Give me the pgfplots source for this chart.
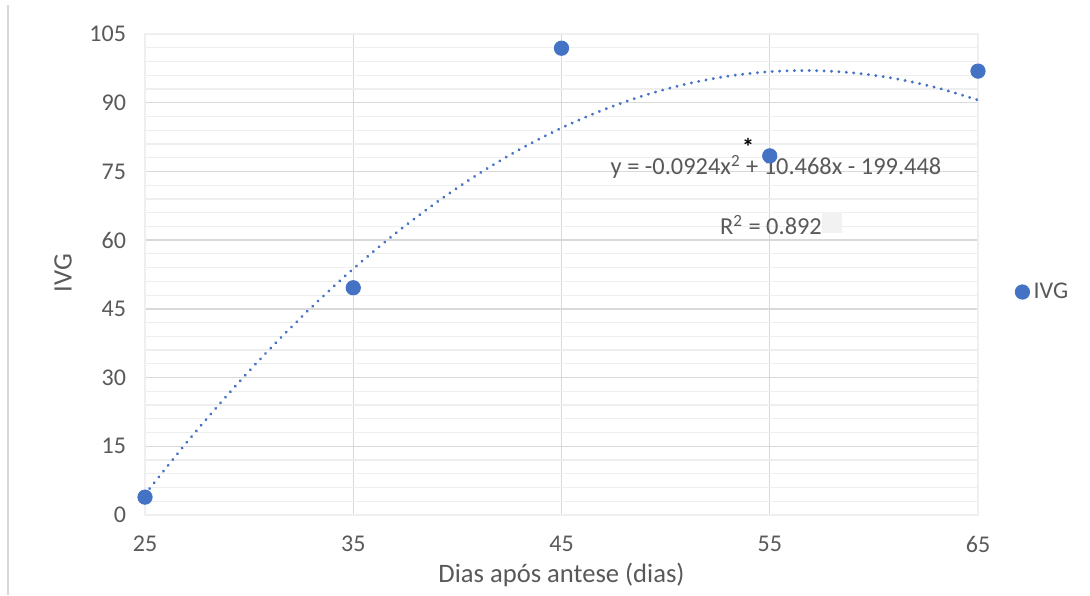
\documentclass[border=0pt]{standalone}
\usepackage{pgfplots}
\pgfplotsset{compat=1.18}
\usepackage{fontspec}
\setmainfont{Carlito}
\definecolor{txt}{HTML}{595959}
\definecolor{grd}{HTML}{D9D9D9}
\definecolor{mgrd}{HTML}{EEEEEE}
\definecolor{blu}{HTML}{4472C4}
\begin{document}
\begin{tikzpicture}
\path[use as bounding box] (-72.5pt,-40pt) rectangle (472.5pt,257.5pt);
\draw[grd, line width=0.9pt] (-68.5pt,-40pt) -- (-68.5pt,255pt);
\begin{axis}[
  scale only axis, width=416.5pt, height=240.5pt,
  at={(0,0)}, anchor=south west,
  xmin=25, xmax=65, ymin=0, ymax=105,
  xtick={25,35,45,55,65}, ytick={0,15,30,45,60,75,90,105},
  minor y tick num=4,
  grid=both,
  major grid style={grd, line width=0.7pt},
  minor grid style={mgrd, line width=0.6pt},
  x grid style={grd, line width=0.7pt},
  axis line style={grd!110!black, line width=0.8pt},
  major tick length=0pt, minor tick length=0pt,
  /pgf/number format/assume math mode=true,
  ticklabel style={font=\fontsize{12}{14}\selectfont, text=txt},
  yticklabel style={xshift=-6pt},
  xticklabel style={yshift=-7pt},
  xlabel={Dias após antese (dias)},
  ylabel={IVG},
  label style={font=\fontsize{13.3}{15}\selectfont, text=txt},
  xlabel style={at={(axis description cs:0.5,-0.125)}, anchor=center},
  ylabel style={at={(axis description cs:-0.0984,0.503)}, anchor=center},
  clip=false,
  legend style={draw=none, fill=none, at={(axis description cs:1.037,0.4636)}, anchor=west,
    font=\fontsize{12}{14}\selectfont, text=txt},
  legend cell align=left,
]
\addplot[only marks, mark=*, mark size=3.6pt, mark options={fill=blu, draw=blu}]
  coordinates {(25,3.9) (35,49.6) (45,101.9) (55,78.4) (65,96.9)};
\addlegendentry{IVG}
\addplot[blu, smooth, line width=1.6pt, line cap=round, dash pattern=on 0.01pt off 3.7pt, forget plot]
  coordinates {(25,4.502) (27,15.828) (29,26.416) (31,36.264) (33,45.372) (35,53.742)
   (37,61.372) (39,68.264) (41,74.416) (43,79.828) (45,84.502) (47,88.436) (49,91.632)
   (51,94.088) (53,95.804) (55,96.782) (57,97.020) (59,96.520) (61,95.280) (63,93.300) (65,90.582)};
\fill[black!5] (axis cs:57.5,61.56) rectangle (axis cs:58.47,66.14);
\node[text=txt, font=\fontsize{12.2}{14}\selectfont, inner sep=1pt] at (axis cs:55.3,75.97) {y = -0.0924x\textsuperscript{2} + 10.468x - 199.448};
\node[text=txt, font=\fontsize{12.2}{14}\selectfont] at (axis cs:55.06,63.3) {R\textsuperscript{2} = 0.892};
\node[text=black, font=\fontsize{12}{14}\selectfont\bfseries, inner sep=0pt] at (axis cs:53.96,80.4) {*};
\end{axis}
\end{tikzpicture}
\end{document}
